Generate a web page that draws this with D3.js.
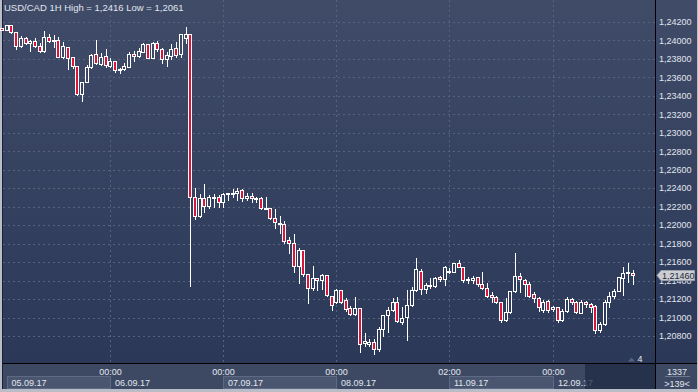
<!DOCTYPE html>
<html>
<head>
<meta charset="utf-8">
<title>USD/CAD 1H</title>
<script src="https://d3js.org/d3.v7.min.js"></script>
<style>
  body { margin: 0; background: #2e3a57; }
  svg { display: block; }
  text { font-family: "Liberation Sans", Arial, sans-serif; font-size: 9px; }
</style>
</head>
<body>
<div id="vis"></div>
<script>
// USD/CAD hourly candles, 05.09.17 01:00 -> 12.09.17 17:00
var opens = [
  1.24127,1.24107,1.24161,1.24086,1.23941,1.24021,1.23967,1.23992,1.23941,1.23887,
  1.24032,1.24002,1.24002,1.23822,1.23923,1.23815,1.23721,1.23418,1.23545,1.23707,
  1.23848,1.23743,1.23826,1.23724,1.23775,1.23685,1.23685,1.23713,1.23848,1.23829,
  1.23876,1.23959,1.23811,1.23967,1.23902,1.23794,1.23829,1.23913,1.23848,1.24021,
  1.24064,1.22301,1.22101,1.22290,1.22206,1.22301,1.22307,1.22246,1.22333,1.22342,
  1.22344,1.22380,1.22290,1.22315,1.22290,1.22290,1.22181,1.22181,1.22073,1.22019,
  1.22008,1.21838,1.21803,1.21560,1.21730,1.21467,1.21316,1.21424,1.21406,1.21460,
  1.21236,1.21171,1.21297,1.21189,1.21099,1.21038,1.21099,1.20721,1.20710,1.20738,
  1.20656,1.20873,1.21027,1.21081,1.21164,1.20955,1.21009,1.21135,1.21297,1.21506,
  1.21305,1.21352,1.21341,1.21435,1.21413,1.21506,1.21495,1.21586,1.21543,1.21413,
  1.21406,1.21435,1.21359,1.21322,1.21243,1.21218,1.21164,1.20973,1.21056,1.21287,
  1.21449,1.21406,1.21362,1.21251,1.21208,1.21081,1.21178,1.21089,1.21110,1.20973,
  1.21070,1.21197,1.21171,1.21052,1.21164,1.21143,1.21124,1.20865,1.20930,1.21164,
  1.21236,1.21290,1.21424,1.21485,1.21478
];
var highs = [
  1.24132,1.24161,1.24161,1.24089,1.24046,1.24038,1.24002,1.24021,1.23967,1.24100,
  1.24064,1.24056,1.24038,1.23984,1.23927,1.23818,1.23721,1.23548,1.23732,1.23848,
  1.24002,1.23858,1.23902,1.23804,1.23775,1.23699,1.23750,1.23869,1.23883,1.23913,
  1.23967,1.23959,1.23977,1.23992,1.23919,1.23876,1.23959,1.23977,1.24064,1.24140,
  1.24067,1.22398,1.22336,1.22445,1.22325,1.22336,1.22325,1.22344,1.22347,1.22387,
  1.22398,1.22387,1.22344,1.22344,1.22301,1.22301,1.22301,1.22184,1.22170,1.22098,
  1.22044,1.21874,1.21903,1.21748,1.21730,1.21467,1.21557,1.21427,1.21471,1.21460,
  1.21238,1.21305,1.21297,1.21208,1.21124,1.21218,1.21102,1.20829,1.20764,1.20764,
  1.20901,1.21027,1.21117,1.21208,1.21225,1.21117,1.21297,1.21333,1.21647,1.21521,
  1.21370,1.21424,1.21441,1.21449,1.21557,1.21532,1.21590,1.21622,1.21546,1.21441,
  1.21449,1.21438,1.21489,1.21370,1.21279,1.21236,1.21167,1.21208,1.21287,1.21694,
  1.21485,1.21413,1.21381,1.21272,1.21225,1.21189,1.21189,1.21124,1.21113,1.21089,
  1.21218,1.21214,1.21182,1.21189,1.21182,1.21160,1.21130,1.20955,1.21189,1.21279,
  1.21305,1.21441,1.21543,1.21586,1.21514
];
var lows = [
  1.24105,1.24105,1.24075,1.23902,1.23930,1.23959,1.23887,1.23923,1.23876,1.23876,
  1.23977,1.23930,1.23815,1.23811,1.23685,1.23696,1.23407,1.23346,1.23543,1.23696,
  1.23739,1.23732,1.23713,1.23713,1.23653,1.23642,1.23678,1.23707,1.23778,1.23815,
  1.23873,1.23804,1.23808,1.23887,1.23757,1.23724,1.23794,1.23815,1.23815,1.23967,
  1.21341,1.22065,1.22090,1.22144,1.22181,1.22192,1.22192,1.22192,1.22271,1.22307,
  1.22271,1.22264,1.22271,1.22246,1.22246,1.22170,1.22179,1.22062,1.21965,1.21911,
  1.21803,1.21701,1.21489,1.21370,1.21449,1.21160,1.21297,1.21297,1.21305,1.21236,
  1.21081,1.21160,1.21160,1.21073,1.21027,1.21027,1.20630,1.20695,1.20692,1.20610,
  1.20641,1.20800,1.20847,1.21070,1.20955,1.20930,1.20757,1.21124,1.21287,1.21254,
  1.21262,1.21316,1.21333,1.21398,1.21352,1.21478,1.21492,1.21543,1.21381,1.21370,
  1.21370,1.21341,1.21305,1.21225,1.21164,1.21153,1.20955,1.20966,1.21054,1.21281,
  1.21279,1.21232,1.21218,1.21164,1.21073,1.21063,1.21063,1.21070,1.20955,1.20966,
  1.21056,1.21146,1.21045,1.21045,1.21117,1.21063,1.20832,1.20843,1.20924,1.21110,
  1.21208,1.21287,1.21243,1.21387,1.21359
];
var closes = [
  1.24111,1.24161,1.24086,1.23941,1.24021,1.23967,1.23992,1.23941,1.23887,1.24032,
  1.23995,1.23999,1.23822,1.23937,1.23811,1.23721,1.23418,1.23545,1.23707,1.23840,
  1.23750,1.23822,1.23732,1.23775,1.23678,1.23678,1.23721,1.23848,1.23832,1.23883,
  1.23959,1.23811,1.23967,1.23902,1.23794,1.23840,1.23902,1.23840,1.24064,1.24064,
  1.22307,1.22101,1.22290,1.22206,1.22307,1.22304,1.22246,1.22336,1.22344,1.22344,
  1.22369,1.22290,1.22315,1.22290,1.22288,1.22181,1.22179,1.22073,1.22030,1.22017,
  1.21831,1.21803,1.21560,1.21730,1.21467,1.21316,1.21424,1.21402,1.21460,1.21243,
  1.21135,1.21297,1.21171,1.21089,1.21038,1.21099,1.20710,1.20749,1.20738,1.20656,
  1.20873,1.21027,1.21081,1.21164,1.20962,1.20998,1.21135,1.21297,1.21521,1.21305,
  1.21352,1.21355,1.21430,1.21413,1.21543,1.21508,1.21586,1.21549,1.21406,1.21416,
  1.21424,1.21359,1.21322,1.21236,1.21218,1.21164,1.20973,1.21056,1.21287,1.21452,
  1.21413,1.21362,1.21236,1.21208,1.21110,1.21171,1.21081,1.21110,1.20973,1.21070,
  1.21197,1.21164,1.21056,1.21171,1.21143,1.21110,1.20865,1.20930,1.21171,1.21236,
  1.21290,1.21435,1.21485,1.21487,1.21460
];

var priceTicks = [1.208,1.210,1.212,1.214,1.216,1.218,1.220,1.222,1.224,
                  1.226,1.228,1.230,1.232,1.234,1.236,1.238,1.240,1.242];
var timeIdx = [23, 47, 71, 95, 117];
var timeLabels = ["00:00", "00:00", "00:00", "02:00", "00:00"];
var dateLabels = ["05.09.17", "06.09.17", "07.09.17", "08.09.17", "11.09.17", "12.09.17"];
var lastPrice = 1.21460;
var title = "USD/CAD 1H High = 1,2416 Low = 1,2061";

var W = 698, H = 392;
var left = 3, right = 655, bottom = 363;

var svg = d3.select("#vis").append("svg")
    .attr("width", W)
    .attr("height", H);

var defs = svg.append("defs");
var grad = defs.append("linearGradient")
    .attr("id", "bg")
    .attr("gradientUnits", "userSpaceOnUse")
    .attr("x1", 0).attr("y1", 0).attr("x2", 0).attr("y2", bottom);
grad.append("stop").attr("offset", 0).attr("stop-color", "#3f4b67");
grad.append("stop").attr("offset", 1).attr("stop-color", "#2b3858");

// outer frame + panels
svg.append("rect").attr("width", W).attr("height", H).attr("fill", "#b8bdc7");
svg.append("rect").attr("x", 2).attr("y", 0).attr("width", W - 3).attr("height", H - 3)
    .attr("fill", "#1a2133");
svg.append("rect").attr("x", left).attr("y", 0).attr("width", W - 4).attr("height", bottom)
    .attr("fill", "url(#bg)");
svg.append("rect").attr("x", left).attr("y", bottom + 1).attr("width", W - 4).attr("height", H - bottom - 4)
    .attr("fill", "#3d4963");

var x = d3.scaleLinear().domain([0, opens.length - 1]).range([2.0, 632.9]);
var y = d3.scaleLinear().domain([1.208, 1.242]).range([336, 21.7]);
var px = function(i) { return Math.round(x(i)) + 0.5; };
var py = function(v) { return Math.round(y(v)) + 0.5; };

// grid
var grid = svg.append("g")
    .attr("stroke", "#56627e")
    .attr("stroke-dasharray", "2,3")
    .attr("shape-rendering", "crispEdges");
grid.selectAll("line.h")
    .data(priceTicks)
    .enter().append("line")
    .attr("x1", left).attr("x2", right)
    .attr("y1", py).attr("y2", py);
grid.selectAll("line.v")
    .data(timeIdx)
    .enter().append("line")
    .attr("x1", px).attr("x2", px)
    .attr("y1", 0).attr("y2", bottom);

// candles
var candles = svg.append("g").attr("shape-rendering", "crispEdges");
var idx = d3.range(opens.length);
candles.selectAll("line.wick")
    .data(idx)
    .enter().append("line")
    .attr("x1", px).attr("x2", px)
    .attr("y1", function(i) { return Math.round(y(highs[i])); })
    .attr("y2", function(i) { return Math.round(y(lows[i])) + 1; })
    .attr("stroke", "#ffffff");
candles.selectAll("rect.body")
    .data(idx)
    .enter().append("rect")
    .attr("x", function(i) { return px(i) - 2; })
    .attr("y", function(i) { return Math.round(y(Math.max(opens[i], closes[i]))) + 0.5; })
    .attr("width", 3)
    .attr("height", function(i) {
        return Math.max(1, Math.round(y(Math.min(opens[i], closes[i]))) - Math.round(y(Math.max(opens[i], closes[i]))));
    })
    .attr("fill", function(i) { return closes[i] < opens[i] ? "#dc143c" : "url(#bg)"; })
    .attr("stroke", "#ffffff");

// separators
svg.append("line").attr("x1", right + 0.5).attr("x2", right + 0.5).attr("y1", 0).attr("y2", H - 3)
    .attr("stroke", "#000").attr("shape-rendering", "crispEdges");
svg.append("line").attr("x1", left).attr("x2", W - 1).attr("y1", bottom + 0.5).attr("y2", bottom + 0.5)
    .attr("stroke", "#000").attr("shape-rendering", "crispEdges");

// price axis
var fmt = function(v) { return d3.format(".5f")(v).replace(".", ","); };
var axis = svg.append("g")
    .attr("transform", "translate(" + (right + 1) + ",0)")
    .call(d3.axisRight(y).tickValues(priceTicks).tickSize(0).tickPadding(3).tickFormat(fmt));
axis.select(".domain").remove();
axis.selectAll("text")
    .attr("fill", "#e1e6ef")
    .style("font-family", "'Liberation Sans', Arial, sans-serif")
    .style("font-size", "9px");

// last price tag (sits over the 1,21400 label, as in the terminal)
var ly = Math.round(y(lastPrice));
svg.append("path")
    .attr("d", "M" + (right + 2) + "," + (ly + 0.5) + " L" + (right + 6) + "," + (ly - 4.5) +
               " L" + 694.5 + "," + (ly - 4.5) + " L" + 694.5 + "," + (ly + 5.5) +
               " L" + (right + 6) + "," + (ly + 5.5) + " Z")
    .attr("fill", "#cbcdd1")
    .attr("stroke", "#9aa0aa");
svg.append("text")
    .attr("x", right + 7)
    .attr("y", ly + 4)
    .attr("fill", "#1c2840")
    .text(fmt(lastPrice));

// bottom time scale
var dayStarts = [7].concat(timeIdx.map(px));
dayStarts.forEach(function(d, k) {
    var next = k + 1 < dayStarts.length ? dayStarts[k + 1] : right;
    if (k % 2 === 0) {
        svg.append("rect")
            .attr("x", d).attr("y", 376.5)
            .attr("width", next - d).attr("height", 12)
            .attr("fill", "#4a5670")
            .attr("stroke", "#5e6a84")
            .attr("shape-rendering", "crispEdges");
    }
    svg.append("text")
        .attr("x", d + 4.5)
        .attr("y", 386)
        .attr("fill", "#e1e6ef")
        .text(dateLabels[k]);
});
svg.selectAll("text.time")
    .data(timeIdx)
    .enter().append("text")
    .attr("x", px)
    .attr("y", 374.5)
    .attr("text-anchor", "middle")
    .attr("fill", "#e1e6ef")
    .text(function(d, k) { return timeLabels[k]; });

// scroller block over the right end of the time scale
svg.append("rect")
    .attr("x", 585).attr("y", bottom + 1)
    .attr("width", right - 585).attr("height", H - bottom - 4)
    .attr("fill", "#1f2a44")
    .attr("opacity", 0.75);

// bar counter corner
svg.append("text").attr("x", 677).attr("y", 374.5).attr("text-anchor", "middle")
    .attr("fill", "#e1e6ef").text("1337");
svg.append("line").attr("x1", 665).attr("x2", 690).attr("y1", 376.5).attr("y2", 376.5)
    .attr("stroke", "#6d7892");
svg.append("text").attr("x", 677).attr("y", 386.5).attr("text-anchor", "middle")
    .attr("fill", "#e1e6ef").text(">139<");

// shift marker
svg.append("path").attr("d", "M628,361.5 L631.5,357.5 L635,361.5 Z").attr("fill", "#56627c");
svg.append("text").attr("x", 637.5).attr("y", 362).attr("fill", "#e1e6ef").text("4");

// title
svg.append("text")
    .attr("x", 4)
    .attr("y", 11)
    .attr("fill", "#e1e6ef")
    .style("font-size", "9.5px")
    .text(title);
</script>
</body>
</html>
